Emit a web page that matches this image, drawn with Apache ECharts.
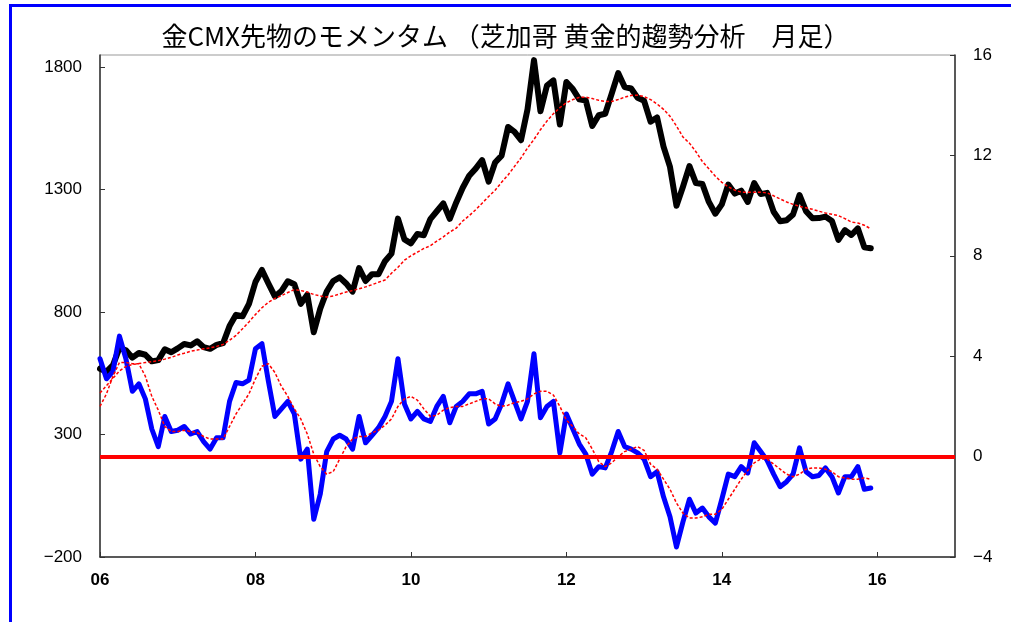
<!DOCTYPE html>
<html><head><meta charset="utf-8">
<script src="https://cdn.jsdelivr.net/npm/echarts@6/dist/echarts.min.js"></script>
<style>html,body{margin:0;padding:0;background:#fff}#c{width:1011px;height:622px}</style>
</head><body><div id="c"></div>
<script>
const title = '金CMX先物のモメンタム （芝加哥 黄金的趨勢分析　月足）';
const startYear = 2006;
// Gold CMX month-end price (left axis)
const price = [
 569,557,583,654,644,614,633,626,599,604,648,636,
 652,670,664,681,657,650,666,673,743,789,783,834,
 923,972,917,864,886,926,914,834,871,718,814,884,
 927,942,917,884,980,927,955,955,1008,1039,1182,1097,
 1081,1119,1114,1180,1212,1244,1181,1248,1308,1357,1386,1421,
 1333,1411,1439,1556,1536,1502,1628,1829,1620,1725,1746,1566,
 1740,1711,1669,1664,1560,1604,1610,1692,1776,1719,1713,1675,
 1663,1578,1595,1476,1393,1234,1312,1396,1327,1323,1250,1202,
 1240,1321,1284,1296,1250,1327,1282,1287,1210,1171,1175,1199,
 1278,1212,1183,1184,1190,1172,1095,1135,1115,1142,1065,1061];
// moving average of price (red dotted)
const priceMA = [
 470,500,530,560,578,586,590,594,598,602,608,615,
 625,632,640,645,650,654,660,668,685,705,732,760,
 790,818,840,856,867,880,892,888,882,872,866,862,
 866,874,882,888,895,903,912,922,931,959,983,1012,
 1030,1045,1060,1071,1090,1107,1127,1143,1172,1194,1218,1245,
 1272,1298,1330,1360,1395,1430,1470,1505,1545,1580,1610,1635,
 1655,1668,1677,1678,1672,1665,1660,1660,1668,1678,1685,1686,
 1680,1668,1650,1628,1600,1560,1515,1490,1455,1415,1385,1355,
 1330,1312,1298,1290,1290,1290,1290,1287,1275,1262,1250,1240,
 1232,1226,1220,1212,1205,1200,1194,1182,1168,1164,1155,1140];
// momentum (right axis)
const momentum = [
 3.9,3.1,3.4,4.8,3.9,2.6,2.9,2.3,1.1,0.4,1.6,1.0,
 1.05,1.2,0.9,1.0,0.6,0.3,0.75,0.75,2.2,2.95,2.9,3.05,
 4.3,4.5,3.0,1.6,1.9,2.2,1.7,-0.1,0.3,-2.5,-1.5,0.2,
 0.7,0.85,0.7,0.3,1.6,0.55,0.85,1.15,1.6,2.2,3.9,2.1,
 1.5,1.8,1.5,1.4,2.0,2.4,1.35,2.0,2.2,2.5,2.5,2.6,
 1.3,1.5,2.1,2.9,2.2,1.5,2.2,4.1,1.55,2.0,2.2,0.15,
 1.7,1.1,0.5,0.1,-0.7,-0.4,-0.45,0.2,1.0,0.4,0.3,0.15,
 -0.1,-0.8,-0.6,-1.6,-2.4,-3.6,-2.6,-1.7,-2.25,-2.05,-2.4,-2.65,
 -1.7,-0.7,-0.8,-0.4,-0.65,0.55,0.2,-0.15,-0.7,-1.2,-1.0,-0.7,
 0.35,-0.6,-0.8,-0.75,-0.45,-0.8,-1.45,-0.8,-0.8,-0.4,-1.3,-1.25];
// moving average of momentum (red dotted)
const momentumMA = [
 2.0,2.5,3.2,3.75,3.75,3.7,3.7,3.2,2.4,1.85,1.2,1.0,
 1.0,1.05,1.0,0.95,0.8,0.7,0.7,0.7,1.2,1.7,2.1,2.5,
 3.1,3.6,3.7,3.35,2.8,2.4,1.9,1.5,0.9,0.1,-0.4,-0.7,
 -0.6,-0.1,0.4,0.7,0.8,0.8,0.95,1.05,1.25,1.5,2.0,2.3,
 2.4,2.25,1.9,1.6,1.65,1.85,1.95,2.0,2.0,2.1,2.2,2.3,
 2.3,2.1,2.0,2.05,2.15,2.2,2.3,2.5,2.6,2.6,2.45,2.0,
 1.45,1.2,0.9,0.75,0.3,-0.2,-0.4,-0.25,0.0,0.2,0.3,0.4,
 0.25,-0.3,-0.5,-0.9,-1.3,-1.85,-2.25,-2.45,-2.45,-2.4,-2.3,-2.3,
 -2.1,-1.7,-1.3,-0.9,-0.55,-0.25,-0.1,-0.1,-0.3,-0.5,-0.7,-0.8,
 -0.7,-0.5,-0.45,-0.45,-0.5,-0.6,-0.8,-0.85,-0.9,-0.9,-0.85,-0.9];

const months = price.map((_, i) => startYear + i / 12);
const pair = arr => arr.map((v, i) => [months[i], v]);
const minus = v => String(v).replace('-', '\u2212');
const labelFont = { color: '#000', fontFamily: 'Liberation Sans, Arial, sans-serif', fontSize: 17 };

const chart = echarts.init(document.getElementById('c'), null, { renderer: 'canvas' });
chart.setOption({
  animation: false,
  backgroundColor: '#fff',
  title: {
    text: title, left: 'center', top: 18,
    textStyle: { fontFamily: 'Noto Sans CJK JP', fontSize: 26, fontWeight: 'normal', color: '#000' }
  },
  graphic: [{
    type: 'rect', left: 8, top: 3, silent: true,
    shape: { width: 1100, height: 700 },
    style: { fill: 'none', stroke: '#0000ff', lineWidth: 3 }
  }],
  grid: { left: 100, right: 56, top: 55, bottom: 65, show: true, borderColor: '#999', borderWidth: 1 },
  xAxis: {
    type: 'value', min: 2006, max: 2017, interval: 2,
    axisLine: { onZero: false, lineStyle: { color: '#333', width: 1.5 } },
    axisTick: { inside: true, length: 5, lineStyle: { color: '#333' } },
    splitLine: { show: false },
    axisLabel: Object.assign({}, labelFont, {
      fontFamily: 'Liberation Sans Narrow, Liberation Sans, sans-serif', fontWeight: 'bold', fontSize: 17,
      margin: 15, showMaxLabel: false,
      formatter: v => String(v).slice(2)
    })
  },
  yAxis: [{
    type: 'value', min: -200, max: 1850, interval: 500, position: 'left',
    axisLine: { show: true, onZero: false, lineStyle: { color: '#333', width: 1.5 } },
    axisTick: { show: true, inside: true, length: 5, lineStyle: { color: '#333' } },
    splitLine: { show: false },
    axisLabel: Object.assign({}, labelFont, { margin: 18, showMaxLabel: false, formatter: minus })
  }, {
    type: 'value', min: -4, max: 16, interval: 4, position: 'right',
    axisLine: { show: true, onZero: false, lineStyle: { color: '#333', width: 1.5 } },
    axisTick: { show: true, inside: true, length: 5, lineStyle: { color: '#333' } },
    splitLine: { show: false },
    axisLabel: Object.assign({}, labelFont, { margin: 18, formatter: minus })
  }],
  series: [{
    name: 'price', type: 'line', yAxisIndex: 0, data: pair(price), showSymbol: false, z: 3,
    lineStyle: { color: '#000', width: 6, join: 'round', cap: 'round' }
  }, {
    name: 'momentum', type: 'line', yAxisIndex: 1, data: pair(momentum), showSymbol: false, z: 4,
    lineStyle: { color: '#0000ff', width: 5, join: 'round', cap: 'round' }
  }, {
    name: 'priceMA', type: 'line', yAxisIndex: 0, data: pair(priceMA), showSymbol: false, z: 5,
    lineStyle: { color: '#ff0000', width: 1.5, type: [3, 2] }
  }, {
    name: 'momentumMA', type: 'line', yAxisIndex: 1, data: pair(momentumMA), showSymbol: false, z: 5,
    lineStyle: { color: '#ff0000', width: 1.5, type: [3, 2] },
    markLine: {
      silent: true, symbol: 'none', label: { show: false },
      lineStyle: { color: '#ff0000', width: 4, type: 'solid' },
      data: [{ yAxis: 0 }]
    }
  }]
});
</script></body></html>
